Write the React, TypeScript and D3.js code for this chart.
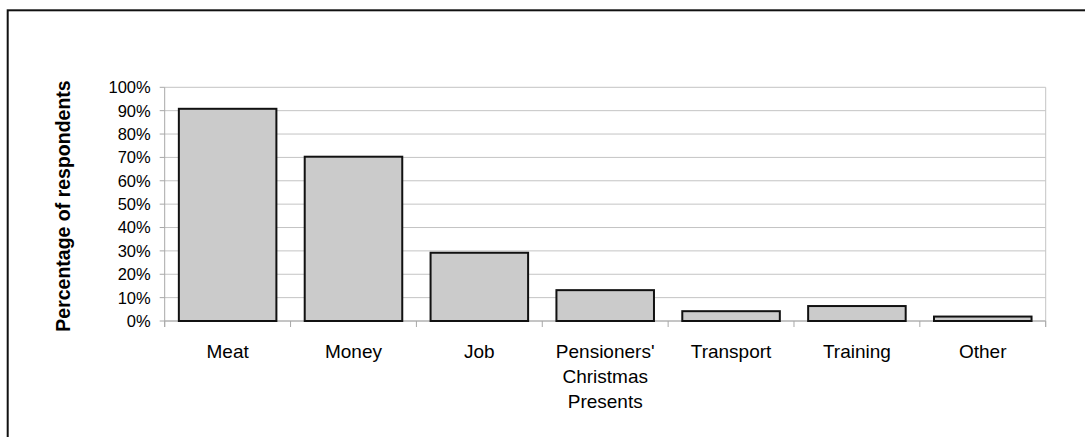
import React from "react";
import * as d3 from "d3";

const categories: string[] = ["Meat", "Money", "Job", "Pensioners' Christmas Presents", "Transport", "Training", "Other"];
const categoryLines: string[][] = [["Meat"], ["Money"], ["Job"], ["Pensioners'", "Christmas", "Presents"], ["Transport"], ["Training"], ["Other"]];
const values: number[] = [90.8, 70.3, 29.2, 13.2, 4.2, 6.4, 1.9];
const yTicks: number[] = [0, 10, 20, 30, 40, 50, 60, 70, 80, 90, 100];
const yTitle = "Percentage of respondents";

const W = 1085;
const H = 437;
const margin = { left: 164.7, right: 1045.7, top: 87.3, bottom: 321 };
const FONT = "'Liberation Sans', Arial, Helvetica, sans-serif";

export default function App() {
  const x = d3.scaleBand<string>().domain(categories).range([margin.left, margin.right]).padding(0);
  const xb = d3.scaleBand<string>().domain(categories).range([margin.left, margin.right]).paddingInner(0.225).paddingOuter(0.1125);
  const y = d3.scaleLinear().domain([0, 100]).range([margin.bottom, margin.top]);
  const step = x.step();
  const boundaries = d3.range(categories.length + 1).map((i) => margin.left + i * step);

  return (
    <svg width={W} height={H} style={{ position: "absolute", left: 0, top: 0, background: "#fff" }} fontFamily={FONT}>
      <rect x={0} y={0} width={W} height={H} fill="#fff" />
      {/* outer frame */}
      <rect x={7.7} y={10.3} width={W + 20} height={H + 20} fill="none" stroke="#111" strokeWidth={2} />
      {/* gridlines */}
      {yTicks.map((t) => (
        <line key={"g" + t} x1={margin.left} x2={margin.right} y1={y(t)} y2={y(t)} stroke="#c4c4c4" strokeWidth={1} />
      ))}
      {/* right border of plot */}
      <line x1={margin.right} x2={margin.right} y1={margin.top} y2={margin.bottom + 6} stroke="#c4c4c4" strokeWidth={1} />
      {/* y axis */}
      <line x1={margin.left} x2={margin.left} y1={margin.top} y2={margin.bottom + 6} stroke="#a8a8a8" strokeWidth={1} />
      {yTicks.map((t) => (
        <g key={"t" + t}>
          <line x1={margin.left - 5} x2={margin.left} y1={y(t)} y2={y(t)} stroke="#a8a8a8" strokeWidth={1} />
          <text x={150.7} y={y(t)} dy="0.36em" textAnchor="end" fontSize={16.5} fill="#000">
            {d3.format("d")(t) + "%"}
          </text>
        </g>
      ))}
      {/* x axis */}
      <line x1={margin.left} x2={margin.right} y1={margin.bottom} y2={margin.bottom} stroke="#a8a8a8" strokeWidth={1} />
      {boundaries.map((bx, i) => (
        <line key={"xt" + i} x1={bx} x2={bx} y1={margin.bottom} y2={margin.bottom + 6} stroke="#a8a8a8" strokeWidth={1} />
      ))}
      {/* bars */}
      {categories.map((c, i) => (
        <rect
          key={c}
          x={xb(c)!}
          y={y(values[i])}
          width={xb.bandwidth()}
          height={y(0) - y(values[i])}
          fill="#cbcbcb"
          stroke="#111"
          strokeWidth={2}
        />
      ))}
      {/* x labels */}
      {categories.map((c, i) => (
        <text key={"l" + c} x={x(c)! + step / 2} y={358} textAnchor="middle" fontSize={19} fill="#000">
          {categoryLines[i].map((line, j) => (
            <tspan key={j} x={x(c)! + step / 2} dy={j === 0 ? 0 : 24.8}>
              {line}
            </tspan>
          ))}
        </text>
      ))}
      {/* y title */}
      <text
        transform={`translate(70,206) rotate(-90)`}
        textAnchor="middle"
        fontSize={19.5}
        fontWeight="bold"
        fill="#000"
      >
        {yTitle}
      </text>
    </svg>
  );
}
